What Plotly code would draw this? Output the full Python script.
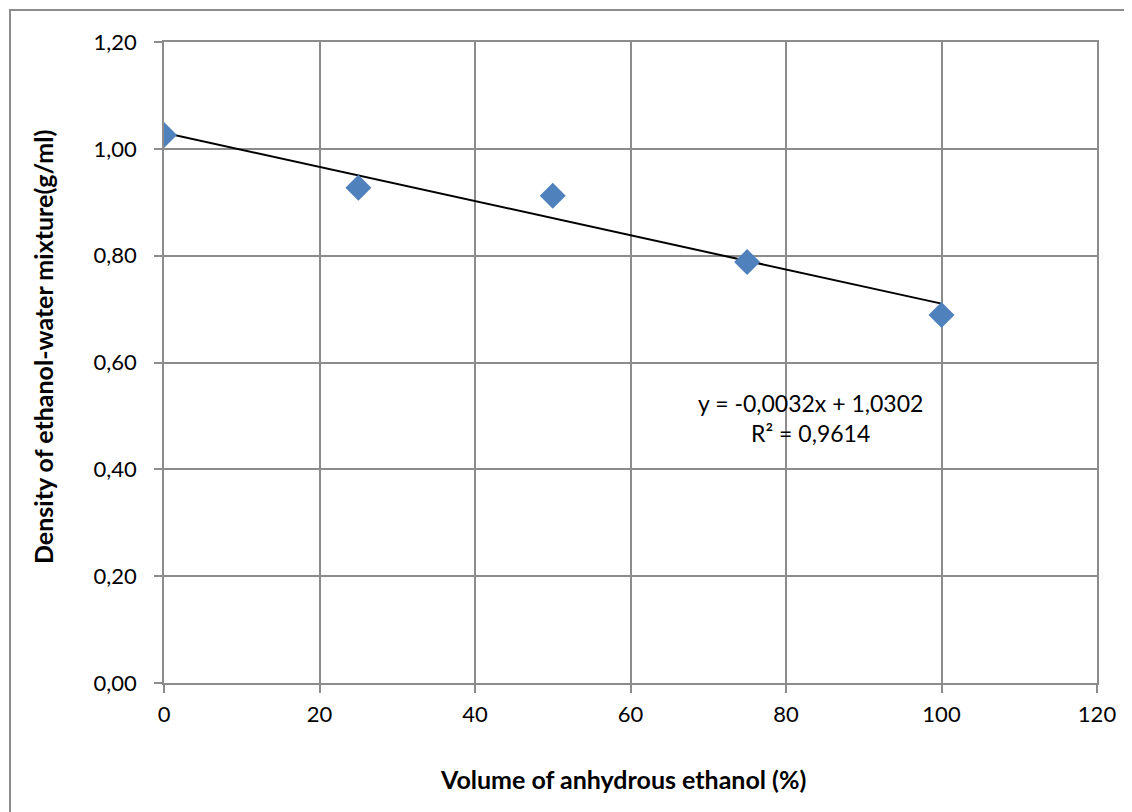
import plotly.graph_objects as go

# Data
volume_pct = [0, 25, 50, 75, 100]
density = [1.026, 0.927, 0.912, 0.788, 0.689]
slope = -0.0032
intercept = 1.0302
trend_x = [0, 100]
x_ticks = [0, 20, 40, 60, 80, 100, 120]
y_ticks = [0.0, 0.2, 0.4, 0.6, 0.8, 1.0, 1.2]
y_tick_text = ["0,00", "0,20", "0,40", "0,60", "0,80", "1,00", "1,20"]

FONT = "Lato, 'Open Sans', sans-serif"
GRID = "#8c8c8c"

# page body has an 8px offset; plot area target: x 164..1097, y 42..683 (window px)
OFF = 8
L, T = 164 - OFF, 42 - OFF
PW, PH = 933, 641

fig = go.Figure()
fig.add_trace(go.Scatter(
    x=trend_x, y=[slope * v + intercept for v in trend_x],
    mode="lines", line=dict(color="black", width=2), showlegend=False,
    hoverinfo="skip"))
fig.add_trace(go.Scatter(
    x=volume_pct, y=density, mode="markers",
    marker=dict(symbol="diamond", size=20, color="#4F81BD"),
    showlegend=False))

def px_x(p):
    return (p - 164) / PW

def px_y(p):
    return (683 - p) / PH

fig.update_layout(
    width=1124, height=804,
    margin=dict(l=L, r=35, t=T, b=129, autoexpand=False),
    paper_bgcolor="white", plot_bgcolor="white",
    font=dict(family=FONT, size=22, color="black"),
    xaxis=dict(range=[0, 120], tickvals=x_ticks, showgrid=True, gridcolor=GRID,
               gridwidth=1.5, showline=True, linecolor=GRID, linewidth=1.5,
               mirror=True, ticks="outside", ticklen=8, tickcolor=GRID,
               tickwidth=1.5, zeroline=False, ticklabelstandoff=3),
    yaxis=dict(range=[0, 1.2], tickvals=y_ticks, ticktext=y_tick_text,
               showgrid=True, gridcolor=GRID, gridwidth=1.5, showline=True,
               linecolor=GRID, linewidth=1.5, mirror=True, ticks="outside",
               ticklen=8, tickcolor=GRID, tickwidth=1.5, zeroline=False,
               ticklabelstandoff=13),
    shapes=[dict(type="rect", xref="paper", yref="paper",
                 x0=px_x(10), x1=px_x(1160),
                 y0=px_y(840), y1=px_y(10),
                 line=dict(color="#8c8c8c", width=2), layer="below")],
    annotations=[
        dict(text="<b>Volume of anhydrous ethanol (%)</b>", xref="paper", yref="paper",
             x=px_x(623), y=px_y(779), showarrow=False,
             font=dict(size=25), xanchor="center", yanchor="middle"),
        dict(text="<b>Density of ethanol-water mixture(g/ml)</b>", xref="paper", yref="paper",
             x=px_x(43), y=px_y(347), showarrow=False, textangle=-90,
             font=dict(size=25), xanchor="center", yanchor="middle"),
        dict(text="y = -0,0032x + 1,0302<br>R² = 0,9614", xref="x", yref="y",
             x=83.2, y=0.496, showarrow=False, align="center",
             font=dict(size=23), xanchor="center", yanchor="middle"),
    ],
)

fig.write_html("out.html")
